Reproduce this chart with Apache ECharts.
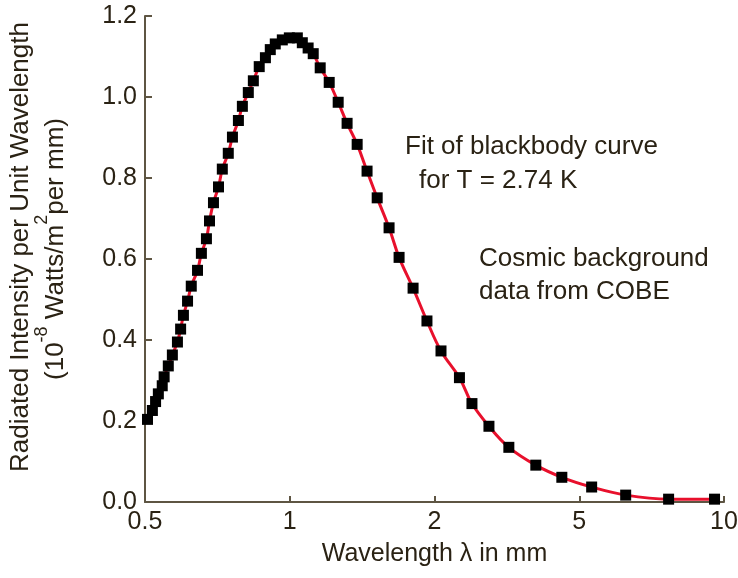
<!DOCTYPE html>
<html>
<head>
<meta charset="utf-8">
<title>Cosmic background - COBE</title>
<style>
    * { margin: 0; padding: 0; }
    #main { width: 738px; height: 578px; background: #fff; }
</style>
</head>
<body>
<div id="main"></div>
<script src="https://cdn.jsdelivr.net/npm/echarts@6/dist/echarts.min.js"></script>
<script>
    // x axis: the labelled wavelengths sit at equal steps
    var tickValues = [0.5, 1, 2, 5, 10];
    var tickLabels = ['0.5', '1', '2', '5', '10'];

    // COBE points, wavelength in mm
    var wavelength = [0.506, 0.518, 0.526, 0.533, 0.543, 0.548, 0.559, 0.570, 0.584, 0.593,
        0.601, 0.613, 0.624, 0.643, 0.655, 0.671, 0.681, 0.694, 0.711, 0.724,
        0.745, 0.760, 0.782, 0.797, 0.820, 0.840, 0.864, 0.890, 0.911, 0.933,
        0.965, 0.998, 1.037, 1.062, 1.092, 1.119, 1.157, 1.208, 1.261, 1.316,
        1.381, 1.448, 1.520, 1.609, 1.688, 1.805, 1.929, 2.084, 2.342, 2.535,
        2.823, 3.202, 3.798, 4.478, 5.306, 6.245, 7.670, 9.557];
    // intensity, 10^-8 W/m^2 per mm
    var intensity = [0.204, 0.226, 0.248, 0.267, 0.287, 0.309, 0.336, 0.363, 0.395, 0.427,
        0.461, 0.496, 0.533, 0.572, 0.614, 0.650, 0.694, 0.739, 0.778, 0.822,
        0.861, 0.901, 0.942, 0.977, 1.011, 1.040, 1.075, 1.097, 1.117, 1.131,
        1.141, 1.146, 1.146, 1.134, 1.121, 1.107, 1.072, 1.036, 0.987, 0.935,
        0.883, 0.817, 0.751, 0.677, 0.604, 0.528, 0.447, 0.373, 0.307, 0.243,
        0.187, 0.135, 0.091, 0.061, 0.037, 0.017, 0.007, 0.007];

    // position on the x axis: log scale inside each labelled step
    function axisPos(w) {
        var n = tickValues.length - 1;
        for (var i = 0; i < n; i++) {
            var a = tickValues[i], b = tickValues[i + 1];
            if (w <= b || i == n - 1) {
                return i + Math.log(w / a) / Math.log(b / a);
            }
        }
    }

    var points = [];
    for (var i = 0; i < wavelength.length; i++) {
        points.push([axisPos(wavelength[i]), intensity[i]]);
    }

    var textColor = '#2a2214';
    var axisColor = '#5e5543';
    var font = "'Liberation Sans', Arial, sans-serif";

    var myChart = echarts.init(document.getElementById('main'));

    var option = {
        animation: false,
        textStyle: { fontFamily: font, color: textColor },
        grid: { left: 145, right: 14, top: 16, bottom: 76, containLabel: false, outerBoundsMode: 'none' },
        xAxis: {
            type: 'value',
            min: 0,
            max: 4,
            interval: 1,
            name: 'Wavelength λ in mm',
            nameLocation: 'middle',
            nameGap: 40,
            nameTextStyle: { fontSize: 25, color: textColor, fontFamily: font },
            axisLine: { show: true, lineStyle: { color: axisColor, width: 2 } },
            axisTick: { show: true, inside: true, length: 6, lineStyle: { color: axisColor, width: 2 } },
            axisLabel: {
                fontSize: 25, color: textColor, fontFamily: font, margin: 8,
                formatter: function (v) { return tickLabels[Math.round(v)]; }
            },
            splitLine: { show: false }
        },
        yAxis: {
            type: 'value',
            min: 0,
            max: 1.2,
            interval: 0.2,
            axisLine: { show: true, lineStyle: { color: axisColor, width: 2 } },
            axisTick: { show: true, inside: true, length: 7, lineStyle: { color: axisColor, width: 2 } },
            axisLabel: {
                fontSize: 25, color: textColor, fontFamily: font, margin: 8,
                formatter: function (v) { return v.toFixed(1); }
            },
            splitLine: { show: false }
        },
        graphic: [
            {
                type: 'text', x: 21, y: 247, rotation: Math.PI / 2,
                style: { text: 'Radiated Intensity per Unit Wavelength', font: '26px ' + font, fill: textColor, textAlign: 'center', textVerticalAlign: 'middle' }
            },
            {
                type: 'text', x: 51, y: 249, rotation: Math.PI / 2,
                style: {
                    text: '{n|(10}{s|-8}{n| Watts/m}{s|2}{n|per mm)}',
                    fill: textColor, textAlign: 'center', textVerticalAlign: 'middle',
                    rich: {
                        n: { fontSize: 26, fontFamily: font, lineHeight: 36, verticalAlign: 'bottom', fill: textColor },
                        s: { fontSize: 18, fontFamily: font, lineHeight: 36, verticalAlign: 'top', fill: textColor }
                    }
                }
            },
            {
                type: 'text', x: 405, y: 147,
                style: { text: 'Fit of blackbody curve', font: '26px ' + font, fill: textColor, textAlign: 'left', textVerticalAlign: 'middle' }
            },
            {
                type: 'text', x: 419, y: 181,
                style: { text: 'for T = 2.74 K', font: '26px ' + font, fill: textColor, textAlign: 'left', textVerticalAlign: 'middle' }
            },
            {
                type: 'text', x: 479, y: 259,
                style: { text: 'Cosmic background', font: '26px ' + font, fill: textColor, textAlign: 'left', textVerticalAlign: 'middle' }
            },
            {
                type: 'text', x: 479, y: 292,
                style: { text: 'data from COBE', font: '26px ' + font, fill: textColor, textAlign: 'left', textVerticalAlign: 'middle' }
            }
        ],
        series: [
            {
                name: 'blackbody fit',
                type: 'line',
                data: points,
                smooth: 0.4,
                showSymbol: false,
                lineStyle: { color: '#e8102c', width: 3 },
                z: 2
            },
            {
                name: 'COBE',
                type: 'scatter',
                data: points,
                symbol: 'rect',
                symbolSize: 11,
                itemStyle: { color: '#000', opacity: 1 },
                z: 3
            }
        ]
    };

    myChart.setOption(option);
</script>
</body>
</html>
